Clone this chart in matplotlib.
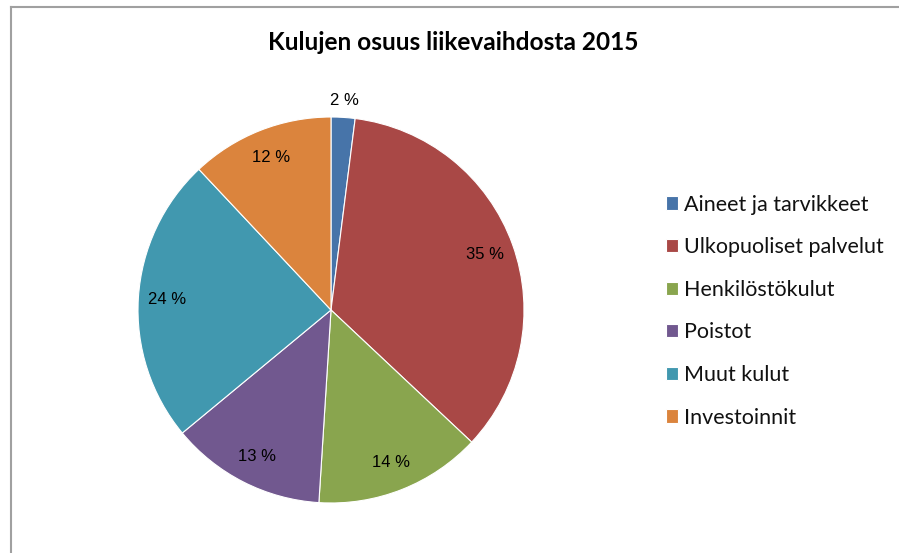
import matplotlib

matplotlib.use('Agg')
import matplotlib.pyplot as plt
from matplotlib.lines import Line2D

W, H = 899, 553
DPI = 100

TITLE = "Kulujen osuus liikevaihdosta 2015"
CATEGORIES = ["Aineet ja tarvikkeet", "Ulkopuoliset palvelut", "Henkilöstökulut",
              "Poistot", "Muut kulut", "Investoinnit"]
SHARES = [2, 35, 14, 13, 24, 12]
COLORS = ["#4774A9", "#A94846", "#89A54E", "#71588F", "#4198AF", "#DB843D"]

LEGEND_FONT = ["Lato", "DejaVu Sans"]
PCT_FONT = ["Liberation Sans Narrow", "Liberation Sans", "DejaVu Sans"]


def px(x, y):
    # pikselit -> kuvan koordinaatit
    return x / W, 1 - y / H


fig = plt.figure(figsize=(W / DPI, H / DPI), dpi=DPI)

# kaavion reunus: vain vasen ja ylä reuna näkyvät
bx, by = px(10.5, 6.5)
fig.add_artist(Line2D([bx, bx], [0, by], transform=fig.transFigure, color="#A0A0A0", linewidth=1.5))
fig.add_artist(Line2D([bx, 1], [by, by], transform=fig.transFigure, color="#A0A0A0", linewidth=1.5))

cx, cy, r = 331, 310, 193
ax = fig.add_axes([(cx - r) / W, (H - cy - r) / H, 2 * r / W, 2 * r / H])
wedges, texts, autotexts = ax.pie(SHARES, colors=COLORS, startangle=90, counterclock=False,
                                  autopct=lambda p: f"{p:.0f} %", pctdistance=0.85,
                                  wedgeprops=dict(edgecolor="white", linewidth=0.8))
ax.set_xlim(-1, 1)
ax.set_ylim(-1, 1)
for t in autotexts:
    t.set_fontfamily(PCT_FONT)
    t.set_fontsize(12)
    t.set_color("black")
# pieni sektori: otsikko ympyrän ulkopuolelle
x0, y0 = autotexts[0].get_position()
autotexts[0].set_position((x0 / 0.85 * 1.09, y0 / 0.85 * 1.09))

fig.text(*px(453, 43), TITLE, ha="center", va="center", fontsize=17.6,
         fontweight="bold", fontfamily=LEGEND_FONT)

leg = fig.legend(wedges, CATEGORIES, loc="upper left", bbox_to_anchor=px(657, 186),
                 frameon=False, prop=dict(family=LEGEND_FONT, size=15.5),
                 handlelength=0.56, handleheight=0.56, handletextpad=0.3,
                 labelspacing=1.05, borderaxespad=0)
for t in leg.get_texts():
    t.set_color("#111111")

fig.savefig("out.png", dpi=DPI)
